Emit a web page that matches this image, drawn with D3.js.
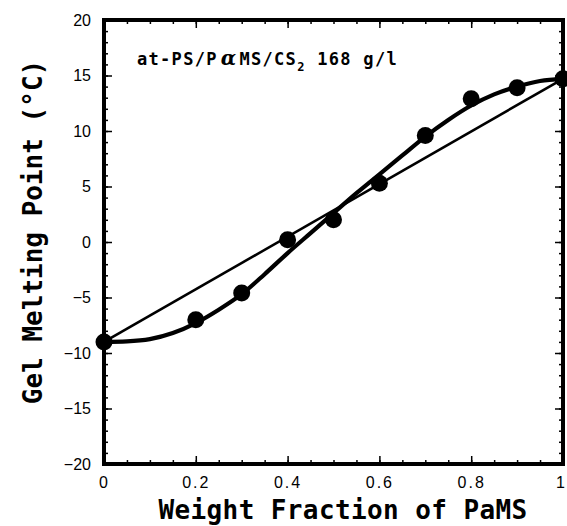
<!DOCTYPE html>
<html>
<head>
<meta charset="utf-8">
<script src="https://cdn.jsdelivr.net/npm/d3@7"></script>
<style>
  body { margin: 0; background: #fff; }
  .tick text { font-family: "Liberation Sans", Arial, sans-serif; font-size: 16px; fill: #000; }
  .tick line { stroke: #000; stroke-width: 1.5; }
  .mono { font-family: "DejaVu Sans Mono", monospace; font-weight: bold; fill: #000; }
</style>
</head>
<body>
<div id="chart"></div>
<script>
// measured points
const fraction = [0, 0.2, 0.3, 0.4, 0.5, 0.6, 0.7, 0.8, 0.9, 1.0];
const meltPoint = [-9.0, -7.0, -4.6, 0.2, 2.0, 5.3, 9.6, 12.9, 13.9, 14.7];

// fitted S-curve
const curveX = [0, 0.05, 0.1, 0.15, 0.2, 0.25, 0.3, 0.35, 0.4, 0.45, 0.5,
                0.55, 0.6, 0.65, 0.7, 0.75, 0.8, 0.85, 0.9, 0.95, 1.0];
const curveY = [-9.0, -8.95, -8.75, -8.2, -7.3, -6.1, -4.7, -2.9, -1.0, 0.8, 2.6,
                4.4, 6.1, 7.8, 9.5, 11.0, 12.3, 13.3, 14.0, 14.5, 14.7];

// straight (additivity) line
const lineX = [0, 1];
const lineY = [-9.0, 14.7];

const xTicks = [0, 0.2, 0.4, 0.6, 0.8, 1];
const yTicks = [-20, -15, -10, -5, 0, 5, 10, 15, 20];

const width = 567, height = 526;
const plotL = 104, plotR = 563, plotT = 20, plotB = 464;

const svg = d3.select("#chart").append("svg")
  .attr("width", width)
  .attr("height", height);

const x = d3.scaleLinear().domain([0, 1]).range([plotL, plotR]);
const y = d3.scaleLinear().domain([-20, 20]).range([plotB, plotT]);

const xMinor = d3.range(0, 1.0001, 0.05);
const yMinor = d3.range(-20, 20.001, 1);

const fmtX = d => d === 0 ? "0" : d === 1 ? "1" : d3.format(".1f")(d);

// minor ticks on all four sides
svg.append("g").attr("transform", `translate(0,${plotB})`)
  .call(d3.axisBottom(x).tickValues(xMinor).tickSize(-4).tickFormat(""));
svg.append("g").attr("transform", `translate(0,${plotT})`)
  .call(d3.axisTop(x).tickValues(xMinor).tickSize(-4).tickFormat(""));
svg.append("g").attr("transform", `translate(${plotL},0)`)
  .call(d3.axisLeft(y).tickValues(yMinor).tickSize(-4).tickFormat(""));
svg.append("g").attr("transform", `translate(${plotR},0)`)
  .call(d3.axisRight(y).tickValues(yMinor).tickSize(-4).tickFormat(""));

// major ticks + labels
const xAxisG = svg.append("g").attr("transform", `translate(0,${plotB})`)
  .call(d3.axisBottom(x).tickValues(xTicks).tickSize(-8).tickPadding(13).tickFormat(fmtX));
xAxisG.selectAll("text").style("letter-spacing", "2px");
// last label sits on the window edge; nudge it inside
xAxisG.selectAll("text").filter(d => d === 1).attr("dx", -2);

svg.append("g").attr("transform", `translate(0,${plotT})`)
  .call(d3.axisTop(x).tickValues(xTicks).tickSize(-8).tickFormat(""));
svg.append("g").attr("transform", `translate(${plotL},0)`)
  .call(d3.axisLeft(y).tickValues(yTicks).tickSize(-8).tickPadding(13));
svg.append("g").attr("transform", `translate(${plotR},0)`)
  .call(d3.axisRight(y).tickValues(yTicks).tickSize(-8).tickFormat(""));

svg.selectAll(".domain").remove();

// frame
svg.append("rect")
  .attr("x", plotL).attr("y", plotT)
  .attr("width", plotR - plotL).attr("height", plotB - plotT)
  .attr("fill", "none").attr("stroke", "#000").attr("stroke-width", 4);

// straight line
svg.append("path")
  .datum(lineX.map((d, i) => [d, lineY[i]]))
  .attr("fill", "none").attr("stroke", "#000").attr("stroke-width", 2.6)
  .attr("d", d3.line().x(d => x(d[0])).y(d => y(d[1])));

// fitted curve
svg.append("path")
  .datum(curveX.map((d, i) => [d, curveY[i]]))
  .attr("fill", "none").attr("stroke", "#000").attr("stroke-width", 4.2)
  .attr("d", d3.line().x(d => x(d[0])).y(d => y(d[1])).curve(d3.curveMonotoneX));

// data points
svg.selectAll("circle.pt")
  .data(fraction.map((d, i) => [d, meltPoint[i]]))
  .join("circle")
  .attr("class", "pt")
  .attr("cx", d => x(d[0]))
  .attr("cy", d => y(d[1]))
  .attr("r", 8.5)
  .attr("fill", "#000");

// annotation
const note = svg.append("text")
  .attr("class", "mono")
  .attr("x", 137).attr("y", 65)
  .style("font-size", "17px")
  .style("letter-spacing", "1.3px");
note.append("tspan").text("at-PS/P");
note.append("tspan").attr("font-family", "DejaVu Serif").attr("font-style", "italic")
  .attr("dx", 3).style("font-size", "20px").text("α");
note.append("tspan").attr("dx", 2).text("MS/CS");
note.append("tspan").attr("dy", 6).style("font-size", "12px").text("2");
note.append("tspan").attr("dy", -6).text(" 168 g/l");

// axis titles
svg.append("text")
  .attr("class", "mono")
  .attr("x", 343).attr("y", 519)
  .attr("text-anchor", "middle")
  .style("font-size", "26px")
  .style("letter-spacing", "0.4px")
  .text("Weight Fraction of PaMS");

svg.append("text")
  .attr("class", "mono")
  .attr("transform", "translate(42,232) rotate(-90)")
  .attr("text-anchor", "middle")
  .style("font-size", "26px")
  .text("Gel Melting Point (°C)");
</script>
</body>
</html>
